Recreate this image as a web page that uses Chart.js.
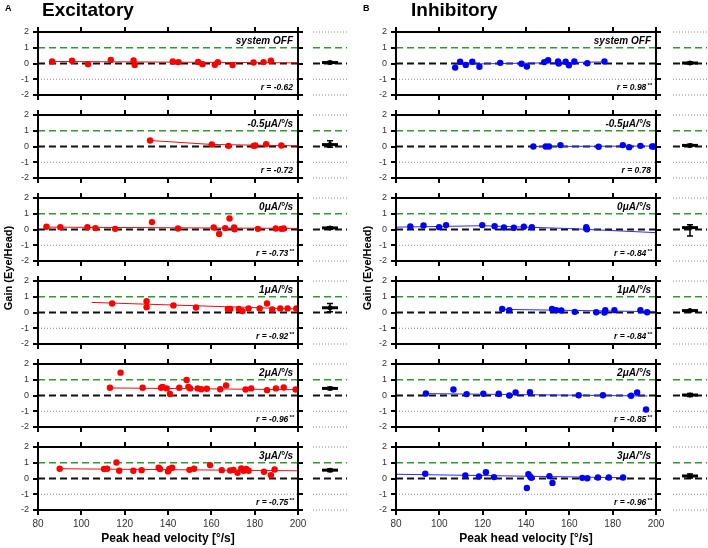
<!DOCTYPE html>
<html><head><meta charset="utf-8">
<script src="https://cdn.jsdelivr.net/npm/chart.js@4"></script>
<style>
body{margin:0;background:#fff;width:708px;height:548px;position:relative;overflow:hidden;font-family:"Liberation Sans",Arial,sans-serif;}
canvas{position:absolute;}
.t{position:absolute;font-weight:bold;color:#000;white-space:nowrap;}
.fr{position:absolute;border:2px solid #000;box-sizing:border-box;}
.tk{position:absolute;background:#000;}
</style></head><body>
<script>
// ---------- data ----------
const conditions = ['system OFF', '-0.5μA/°/s', '0μA/°/s', '1μA/°/s', '2μA/°/s', '3μA/°/s'];
const xTicks = [80, 100, 120, 140, 160, 180, 200];
const yTicks = [-2, -1, 0, 1, 2];

// Excitatory: peak head velocity (x) and gain (y) per condition
const excX = [
  [86.5, 95.7, 103.1, 113.6, 124.1, 124.6, 142.2, 144.8, 153.9, 155.9, 161.6, 163, 169.8, 179.5, 184.1, 187.5],
  [131.7, 160.2, 167.9, 179.5, 180.3, 185.3, 192.3],
  [83.9, 90.3, 102.8, 106.5, 115.6, 132.6, 144.6, 161.1, 163.6, 166.4, 168.4, 170.5, 170.7, 181.5, 189.7, 192.3, 193.4],
  [114.2, 130.1, 130.1, 142.5, 152.9, 167.6, 168.7, 172.7, 174.4, 177.2, 182.3, 185.7, 188.1, 191.8, 195.2, 199.2],
  [113.2, 118.1, 128.3, 136.8, 137.5, 139.4, 140.9, 145.2, 148.6, 149.4, 150.2, 153.7, 155.3, 157.9, 164.1, 166.8, 175.8, 178.4, 185.7, 189.8, 193.4, 198.9],
  [90, 110.5, 111.9, 116.2, 117.5, 124, 127.8, 135.7, 136.3, 140, 140.6, 141.9, 149.9, 152, 159.4, 164.8, 168.7, 170.2, 172.1, 173.8, 174.9, 176.1, 177.2, 184.3, 187.5, 189.2]
];
const excY = [
  [0.13, 0.17, -0.04, 0.23, 0.19, -0.09, 0.13, 0.09, 0.1, -0.04, -0.08, 0.09, -0.1, 0.06, 0.09, 0.17],
  [0.38, 0.13, 0.04, 0.04, 0.06, 0.15, 0.06],
  [0.17, 0.15, 0.15, 0.09, 0.04, 0.47, 0.06, 0.13, -0.28, 0.09, 0.7, 0.13, 0.02, 0.04, 0.06, 0.04, 0.06],
  [0.57, 0.72, 0.34, 0.45, 0.32, 0.23, 0.23, 0.23, 0.09, 0.26, 0.26, 0.57, 0.19, 0.26, 0.26, 0.26],
  [0.49, 1.45, 0.49, 0.49, 0.55, 0.45, 0.1, 0.49, 0.98, 0.55, 0.45, 0.45, 0.4, 0.43, 0.4, 0.64, 0.38, 0.45, 0.34, 0.45, 0.51, 0.38],
  [0.62, 0.6, 0.62, 1.02, 0.49, 0.49, 0.53, 0.68, 0.6, 0.45, 0.6, 0.68, 0.55, 0.62, 0.85, 0.53, 0.51, 0.55, 0.36, 0.64, 0.49, 0.6, 0.49, 0.43, 0.21, 0.57]
];
const excFitX = [[86, 200], [131.7, 160, 200], [84, 200], [104.7, 200], [113, 200], [90, 200]];
const excFitY = [[0.13, 0.04], [0.38, 0.13, 0.04], [0.15, 0.07], [0.64, 0.22], [0.48, 0.37], [0.62, 0.49]];
const excR = ['r = -0.62', 'r = -0.72', 'r = -0.73', 'r = -0.92', 'r = -0.96', 'r = -0.75'];
const excSig = ['', '', '**', '**', '**', '**'];
const excMean = [0.06, 0.12, 0.1, 0.3, 0.45, 0.53];
const excLow = [0.0, -0.05, 0.02, 0.05, 0.38, 0.45];
const excHigh = [0.12, 0.37, 0.18, 0.57, 0.52, 0.61];

// Inhibitory
const inhX = [
  [107.3, 109.6, 112.2, 115.2, 118.5, 128.1, 137.9, 140.4, 148.4, 150.2, 154.8, 155.1, 158.3, 159.8, 162.3, 168.3, 176.2],
  [143.4, 149.1, 150.6, 155.9, 173.5, 184.7, 187.6, 192.8, 198.2, 198.9],
  [86.6, 92.7, 99.9, 103.1, 119.8, 125.5, 129.8, 134.4, 139, 142.7, 167.8, 168.1],
  [129, 132.3, 152, 154, 156.3, 162.5, 172.4, 176.2, 176.6, 180.8, 192.8, 195.9],
  [93.8, 106.5, 112.6, 120.3, 127.4, 132.3, 135.2, 141.8, 164.3, 175.5, 188.5, 191.3, 195.4],
  [93.5, 112, 118.3, 121.5, 125.2, 140.4, 141.1, 141.9, 142.5, 150.8, 152.2, 166, 168.3, 173.2, 178.2, 184.8]
];
const inhY = [
  [-0.26, 0.11, -0.09, 0.11, -0.21, 0.04, -0.02, -0.19, 0.09, 0.21, 0.13, 0, 0.11, -0.11, 0.13, 0.02, 0.13],
  [0, 0, 0, 0.09, -0.02, 0.09, -0.04, 0.04, 0, 0],
  [0.19, 0.26, 0.15, 0.28, 0.28, 0.21, 0.13, 0.11, 0.17, 0.15, 0.15, 0.02],
  [0.23, 0.15, 0.23, 0.15, 0.13, 0.04, 0.02, 0, 0.15, 0.15, 0.15, 0.02],
  [0.13, 0.38, 0.09, 0.11, 0.11, 0, 0.19, 0.21, 0.02, 0.02, -0.02, 0.19, -0.89],
  [0.3, 0.19, 0.13, 0.4, 0.09, -0.6, 0.28, 0.13, 0.04, 0.15, -0.28, 0.04, 0.02, 0.06, 0.06, 0.06]
];
const inhFitX = [[107, 176], [143, 200], [80, 120, 160, 200], [129, 200], [94, 196], [80, 185]];
const inhFitY = [[-0.05, 0.1], [0, 0.03], [0.15, 0.24, 0.06, -0.2], [0.2, 0.05], [0.12, -0.03], [0.27, 0.05]];
const inhR = ['r = 0.98', 'r = 0.78', 'r = -0.84', 'r = -0.84', 'r = -0.85', 'r = -0.96'];
const inhSig = ['**', '', '**', '**', '**', '**'];
const inhMean = [0.03, 0.07, 0.12, 0.12, 0.03, 0.16];
const inhLow = [-0.03, 0.0, -0.42, 0.06, -0.07, 0.03];
const inhHigh = [0.09, 0.15, 0.3, 0.18, 0.13, 0.29];

// ---------- rendering ----------
const FONT = '"Liberation Sans", Arial, sans-serif';
const GREEN = '#2f9a2f';
const panelTops = [32, 115, 198, 281, 364, 447];
const PH = 63, PW = 260;

function refLine(yv, kind, x0, x1) {
  const st = {
    green: {c: GREEN, w: 1.5, d: [7, 4]},
    black: {c: '#111', w: 2, d: [7, 4]},
    dot: {c: '#888', w: 1, d: [1, 2]}
  }[kind];
  return {data: [{x: x0, y: yv}, {x: x1, y: yv}], showLine: true, pointRadius: 0,
    borderColor: st.c, borderWidth: st.w, borderDash: st.d, order: 5, clip: false};
}

function addDiv(cls, l, t, w, h) {
  const d = document.createElement('div');
  d.className = cls;
  d.style.left = l + 'px'; d.style.top = t + 'px';
  d.style.width = w + 'px'; d.style.height = h + 'px';
  document.body.appendChild(d);
  return d;
}
function addText(txt, l, t, size, extra) {
  const d = document.createElement('div');
  d.className = 't';
  d.textContent = txt;
  d.style.left = l + 'px'; d.style.top = t + 'px'; d.style.fontSize = size + 'px';
  if (extra) Object.assign(d.style, extra);
  document.body.appendChild(d);
  return d;
}

const panelText = {
  id: 'panelText',
  afterDraw(chart) {
    const o = chart.options.plugins.panelText;
    const {ctx, chartArea: a, scales: {x, y}} = chart;
    ctx.save();
    ctx.fillStyle = '#333';
    ctx.font = '9px ' + FONT;
    ctx.textAlign = 'right';
    ctx.textBaseline = 'middle';
    yTicks.forEach(v => ctx.fillText(String(v), a.left - 9, y.getPixelForValue(v)));
    if (o.bottom) {
      ctx.font = '10px ' + FONT;
      ctx.textAlign = 'center';
      ctx.textBaseline = 'top';
      xTicks.forEach(v => ctx.fillText(String(v), x.getPixelForValue(v), a.bottom + 9));
    }
    ctx.fillStyle = '#000';
    ctx.textAlign = 'right';
    ctx.textBaseline = 'middle';
    ctx.font = 'italic bold 10px ' + FONT;
    ctx.fillText(o.label, a.right - 5, y.getPixelForValue(1.42));
    const yR = y.getPixelForValue(-1.55);
    ctx.font = 'italic bold 6px ' + FONT;
    const sw = o.sig ? ctx.measureText(o.sig).width : 0;
    if (o.sig) ctx.fillText(o.sig, a.right - 4, yR - 3);
    ctx.font = 'italic bold 8.5px ' + FONT;
    ctx.fillText(o.r, a.right - 5 - sw, yR);
    ctx.restore();
  }
};

function addCanvas(left, top, w, h) {
  const c = document.createElement('canvas');
  c.width = w; c.height = h;
  c.style.left = left + 'px'; c.style.top = top + 'px';
  c.style.width = w + 'px'; c.style.height = h + 'px';
  document.body.appendChild(c);
  return c;
}

function makePanel(col, row) {
  const isExc = col === 0;
  const xs = (isExc ? excX : inhX)[row], ys = (isExc ? excY : inhY)[row];
  const fx = (isExc ? excFitX : inhFitX)[row], fy = (isExc ? excFitY : inhFitY)[row];
  const color = isExc ? '#ff0000' : '#0000ff';
  const lineColor = isExc ? '#e81010' : '#2a2aff';
  const bottom = row === 5;
  const left = isExc ? 0 : 354;
  const top = panelTops[row] - 8;
  const padL = isExc ? 38 : 42;
  const padB = bottom ? 30 : 8;
  const c = addCanvas(left, top, padL + PW + 10, PH + 8 + padB);
  const x0 = xTicks[0], x1 = xTicks[xTicks.length - 1];
  const ch = new Chart(c, {
    type: 'scatter',
    data: {datasets: [
      {data: xs.map((x, i) => ({x, y: ys[i]})), pointRadius: 3.2, pointHoverRadius: 3.2, backgroundColor: color, borderColor: color, borderWidth: 0, order: 0},
      {data: fx.map((x, i) => ({x, y: fy[i]})), showLine: true, pointRadius: 0, borderColor: lineColor, borderWidth: 1, order: 1},
      refLine(1, 'green', x0, x1), refLine(0, 'black', x0, x1), refLine(-1, 'dot', x0, x1)
    ]},
    options: {
      responsive: false, animation: false, devicePixelRatio: 1,
      layout: {padding: {left: padL, right: 10, top: 8, bottom: padB}},
      plugins: {legend: {display: false}, tooltip: {enabled: false}, panelText: {
        bottom, label: conditions[row], r: (isExc ? excR : inhR)[row], sig: (isExc ? excSig : inhSig)[row]}},
      scales: {
        x: {type: 'linear', display: false, min: x0, max: x1},
        y: {type: 'linear', display: false, min: yTicks[0], max: yTicks[yTicks.length - 1]}
      }
    },
    plugins: [panelText]
  });
  // axis frame and tick marks placed from the chart's own scales
  const a = ch.chartArea, sx = ch.scales.x, sy = ch.scales.y;
  addDiv('fr', left + a.left - 1, top + a.top - 1, a.right - a.left + 2, a.bottom - a.top + 2);
  xTicks.forEach(v => {
    const px = Math.round(left + sx.getPixelForValue(v)) - 1;
    addDiv('tk', px, top + a.top - 5, 2, 5);
    addDiv('tk', px, top + a.bottom, 2, 5);
  });
  yTicks.forEach(v => {
    const py = Math.round(top + sy.getPixelForValue(v)) - 1;
    addDiv('tk', left + a.left - 5, py, 5, 2);
    addDiv('tk', left + a.right, py, 5, 2);
  });
  if (bottom) {
    addText('Peak head velocity [°/s]', left + a.left, top + a.bottom + 21, 12,
      {width: (a.right - a.left) + 'px', textAlign: 'center'});
  }
  return ch;
}

const meanMarker = {
  id: 'meanMarker',
  afterDatasetsDraw(chart, args, o) {
    const {ctx, scales} = chart;
    const cx = scales.x.getPixelForValue(0.5);
    const ym = scales.y.getPixelForValue(o.mean);
    const yl = scales.y.getPixelForValue(o.low);
    const yh = scales.y.getPixelForValue(o.high);
    ctx.save();
    ctx.strokeStyle = '#000';
    ctx.lineWidth = 1.5;
    ctx.beginPath();
    ctx.moveTo(cx, yl); ctx.lineTo(cx, yh);
    ctx.moveTo(cx - 3, yl); ctx.lineTo(cx + 3, yl);
    ctx.moveTo(cx - 3, yh); ctx.lineTo(cx + 3, yh);
    ctx.stroke();
    ctx.lineWidth = 3;
    ctx.beginPath();
    ctx.moveTo(cx - 8, ym); ctx.lineTo(cx + 8, ym);
    ctx.stroke();
    ctx.fillStyle = '#000';
    ctx.beginPath();
    ctx.arc(cx, ym, 2.5, 0, Math.PI * 2);
    ctx.fill();
    ctx.restore();
  }
};

function makeSide(col, row) {
  const isExc = col === 0;
  const left = isExc ? 313 : 673;
  const c = addCanvas(left, panelTops[row] - 8, 34, PH + 16);
  new Chart(c, {
    type: 'scatter',
    data: {datasets: [refLine(2, 'dot', 0, 1), refLine(1, 'green', 0, 1), refLine(0, 'black', 0, 1),
      refLine(-1, 'dot', 0, 1), refLine(-2, 'dot', 0, 1)]},
    options: {
      responsive: false, animation: false, devicePixelRatio: 1,
      layout: {padding: {top: 8, bottom: 8, left: 0, right: 0}},
      plugins: {legend: {display: false}, tooltip: {enabled: false}, meanMarker: {
        mean: (isExc ? excMean : inhMean)[row], low: (isExc ? excLow : inhLow)[row], high: (isExc ? excHigh : inhHigh)[row]}},
      scales: {x: {display: false, min: 0, max: 1}, y: {display: false, min: yTicks[0], max: yTicks[yTicks.length - 1]}}
    },
    plugins: [meanMarker]
  });
}

for (let col = 0; col < 2; col++) {
  for (let row = 0; row < 6; row++) {
    makePanel(col, row);
    makeSide(col, row);
  }
}

// titles
addText('A', 5, 3, 9);
addText('Excitatory', 42, -1, 19);
addText('B', 363, 3, 9);
addText('Inhibitory', 411, -1, 19);
addText('Gain (Eye/Head)', -92, 262, 11, {width: '200px', textAlign: 'center', transform: 'rotate(-90deg)'});
addText('Gain (Eye/Head)', 267, 262, 11, {width: '200px', textAlign: 'center', transform: 'rotate(-90deg)'});
</script>
</body></html>
